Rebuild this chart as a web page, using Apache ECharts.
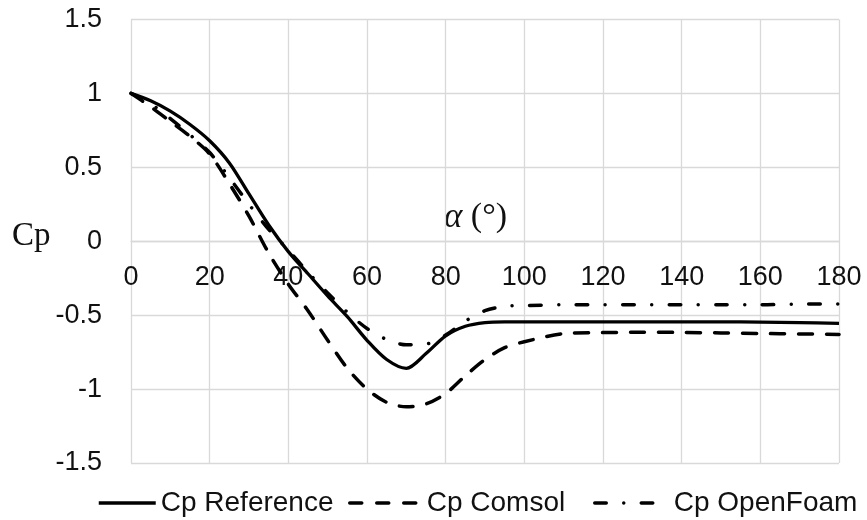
<!DOCTYPE html>
<html>
<head>
<meta charset="utf-8">
<script src="https://cdn.jsdelivr.net/npm/echarts@6/dist/echarts.min.js"></script>
<style>
  html, body { margin: 0; padding: 0; background: #fff; }
  #main { width: 867px; height: 520px; }
</style>
</head>
<body>
<div id="main"></div>
<script>
// angle of attack (deg)
var alpha = [0, 5, 10, 15, 20, 25, 30, 35, 40, 45, 50, 55, 60, 65, 70, 75, 80, 85, 90, 95, 100, 110, 120, 130, 140, 150, 160, 170, 180]

var cpReference = [1.00, 0.95, 0.88, 0.79, 0.68, 0.53, 0.32, 0.11, -0.07, -0.22, -0.37, -0.51, -0.67, -0.80, -0.86, -0.76, -0.64, -0.575, -0.55, -0.545, -0.545, -0.545, -0.545, -0.545, -0.545, -0.545, -0.547, -0.55, -0.555]
var cpComsol = [1.00, 0.91, 0.81, 0.71, 0.59, 0.39, 0.17, -0.08, -0.29, -0.47, -0.67, -0.86, -1.00, -1.09, -1.12, -1.10, -1.03, -0.91, -0.80, -0.72, -0.68, -0.625, -0.618, -0.615, -0.617, -0.62, -0.624, -0.627, -0.63]
var cpOpenFoam = [1.00, 0.93, 0.83, 0.72, 0.60, 0.43, 0.25, 0.08, -0.06, -0.21, -0.35, -0.48, -0.59, -0.665, -0.70, -0.695, -0.635, -0.54, -0.47, -0.44, -0.435, -0.43, -0.43, -0.43, -0.43, -0.43, -0.43, -0.425, -0.425]

var seriesNames = ['Cp Reference', 'Cp Comsol', 'Cp OpenFoam']
var yTicks = [-1.5, -1, -0.5, 0, 0.5, 1, 1.5]

function pairs(ys) {
    return alpha.map(function (a, i) { return [a, ys[i]] })
}

var dashComsol = [14, 14]
var dashFoam = [11.5, 17.5, 0.01, 17.5]

var gridTop = 19.5, gridBottom = 57, chartH = 520
var plotH = chartH - gridTop - gridBottom
// the x axis sits on Cp = 0, move it up from the bottom edge of the grid
var zeroOffset = plotH * (0 - yTicks[0]) / (yTicks[yTicks.length - 1] - yTicks[0])

var myChart = echarts.init(document.getElementById('main'))

var legendText = { fontFamily: 'Liberation Sans', fontSize: 28, color: '#111', lineHeight: 32 }
// hide the circle that line series put in their legend icon
var noSymbol = { color: 'rgba(0,0,0,0)', borderWidth: 0, opacity: 0 }

myChart.setOption({
    animation: false,
    grid: { left: 131, right: 28, top: gridTop, bottom: gridBottom },
    xAxis: {
        type: 'value',
        min: 0,
        max: 180,
        interval: 20,
        position: 'bottom',
        offset: -zeroOffset,
        axisLine: { show: true, onZero: false, lineStyle: { color: '#d9d9d9', width: 1.3 } },
        axisTick: { show: false },
        axisLabel: {
            margin: 23,
            fontFamily: 'Liberation Sans',
            fontSize: 27,
            color: '#111'
        },
        splitLine: { show: true, lineStyle: { color: '#d9d9d9', width: 1.3 } } // 网格线
    },
    yAxis: {
        type: 'value',
        min: yTicks[0],
        max: yTicks[yTicks.length - 1],
        interval: 0.5,
        axisLine: { show: false },
        axisTick: { show: false },
        axisLabel: {
            margin: 29,
            fontFamily: 'Liberation Sans',
            fontSize: 27,
            color: '#111'
        },
        splitLine: { show: true, lineStyle: { color: '#d9d9d9', width: 1.3 } }
    },
    legend: [
        {
            data: [seriesNames[0]], left: 97, top: 487, padding: 0,
            itemWidth: 57, itemHeight: 14, textStyle: legendText, itemStyle: noSymbol,
            lineStyle: { width: 3.5, type: 'solid', color: '#000' }
        },
        {
            data: [seriesNames[1]], left: 348, top: 487, padding: 0,
            itemWidth: 72, itemHeight: 14, textStyle: legendText, itemStyle: noSymbol,
            lineStyle: { width: 3.5, type: [12, 15], cap: 'round', color: '#000' }
        },
        {
            data: [seriesNames[2]], left: 593, top: 487, padding: 0,
            itemWidth: 64, itemHeight: 14, itemStyle: noSymbol,
            textStyle: Object.assign({ padding: [0, 0, 0, 10] }, legendText),
            lineStyle: { width: 3.5, type: dashFoam, cap: 'round', color: '#000' }
        }
    ],
    graphic: [
        {
            type: 'text', left: 12, top: 220,
            style: { text: 'Cp', font: '33px "Liberation Serif"', fill: '#111' }
        },
        {
            type: 'text', left: 444, top: 200,
            style: {
                text: '{a|α} (°)',
                font: '34px "Liberation Serif"',
                fill: '#111',
                rich: { a: { fontStyle: 'italic', fontFamily: 'Liberation Serif', fontSize: 35, fill: '#111' } }
            }
        }
    ],
    series: [
        {
            name: seriesNames[0], type: 'line', smooth: 0.3, symbol: 'none',
            data: pairs(cpReference),
            lineStyle: { color: '#000', width: 3.3 }, itemStyle: { color: '#000' }
        },
        {
            name: seriesNames[1], type: 'line', smooth: 0.3, symbol: 'none',
            data: pairs(cpComsol),
            lineStyle: { color: '#000', width: 3.5, type: dashComsol, cap: 'round' }, itemStyle: { color: '#000' }
        },
        {
            name: seriesNames[2], type: 'line', smooth: 0.3, symbol: 'none',
            data: pairs(cpOpenFoam),
            lineStyle: { color: '#000', width: 3.5, type: dashFoam, cap: 'round' }, itemStyle: { color: '#000' }
        }
    ]
})
</script>
</body>
</html>
